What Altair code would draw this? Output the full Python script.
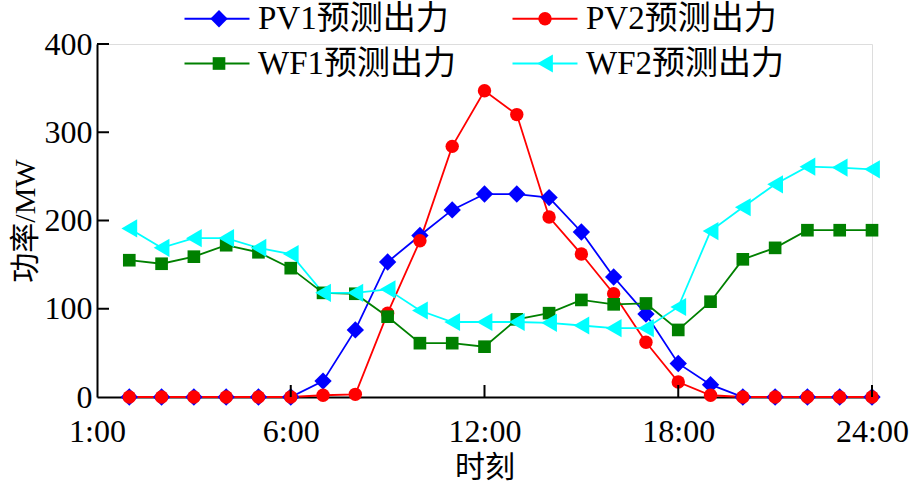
import altair as alt
import pandas as pd

hours = list(range(1, 25))
series = ["PV1预测出力", "PV2预测出力", "WF1预测出力", "WF2预测出力"]
pv1 = [0, 0, 0, 0, 0, 0, 18, 76, 153, 183, 212, 230, 230, 226, 187, 136, 94, 38, 14, 0, 0, 0, 0, 0]
pv2 = [0, 0, 0, 0, 0, 0, 2, 3, 95, 177, 284, 347, 320, 204, 162, 117, 62, 17, 2, 0, 0, 0, 0, 0]
wf1 = [155, 151, 159, 172, 164, 146, 118, 117, 91, 61, 61, 57, 88, 95, 110, 105, 106, 76, 108, 156, 169, 189, 189, 189]
wf2 = [191, 169, 180, 180, 169, 162, 118, 118, 122, 98, 85, 85, 85, 84, 81, 78, 78, 102, 188, 215, 241, 261, 260, 258]

x_tick_values = [0, 6, 12, 18, 24]
x_tick_labels = ["1:00", "6:00", "12:00", "18:00", "24:00"]
y_tick_values = [0, 100, 200, 300, 400]

colors = ["#0000FF", "#FF0000", "#008000", "#00FFFF"]
shapes = ["diamond", "circle", "square", "triangle-left"]
point_sizes = [300, 180, 160, 330]

line_series = [s + " " for s in series]  # separate legend domain for the line symbols

values = [pv1, pv2, wf1, wf2]
rows = []
for s, ls, vals in zip(series, line_series, values):
    for h, v in zip(hours, vals):
        rows.append({"hour": h, "power": v, "series": s, "line": ls})
df = pd.DataFrame(rows)

W, H = 775, 353
serif = "Liberation Serif, Noto Sans CJK SC"

label_expr = ""
for v, l in zip(x_tick_values[:-1], x_tick_labels[:-1]):
    label_expr += f"datum.value === {v} ? '{l}' : "
label_expr += f"'{x_tick_labels[-1]}'"

x_axis = alt.Axis(
    values=x_tick_values, labelExpr=label_expr, title="时刻", ticks=False, tickSize=0,
    grid=False, domainColor="black", domainWidth=2, labelFont=serif, labelFontSize=32,
    labelColor="black", labelPadding=19, labelFlush=False, labelOverlap=False,
    titleFont=serif, titleFontSize=30, titleFontWeight="normal", titleColor="black",
    titlePadding=5,
)
y_axis = alt.Axis(
    values=y_tick_values, title="功率/MW", ticks=False, tickSize=0, grid=False,
    domainColor="black", domainWidth=2, labelFont=serif, labelFontSize=32,
    labelColor="black", labelPadding=5, labelFlush=False, labelOverlap=False,
    titleFont=serif, titleFontSize=30, titleFontWeight="normal", titleColor="black",
    titlePadding=4,
)
x_scale = alt.Scale(domain=[0, 24], nice=False, zero=False)
y_scale = alt.Scale(domain=[0, 400], nice=False)

LX, LY = 86, -42
line_sym = 900      # sqrt = 30 px
mark_sym = 220
label_off = 42

line_legend = alt.Legend(
    title=None, orient="none", legendX=LX, legendY=LY, direction="horizontal", columns=2,
    columnPadding=52, rowPadding=11, symbolSize=line_sym, symbolType="M-1,0H3.333",
    symbolStrokeWidth=2, labelOffset=label_off, labelFont=serif, labelFontSize=33,
    labelColor="black", padding=0, labelLimit=400, zindex=1, labelExpr="trim(datum.label)",
)
mark_legend = alt.Legend(
    title=None, orient="none", legendX=LX + 19.5, legendY=LY, direction="horizontal",
    columns=2, columnPadding=37, rowPadding=11, symbolSize=mark_sym, symbolStrokeWidth=0,
    labelOffset=label_off + 30 - 14, labelFont=serif, labelFontSize=33, labelOpacity=0,
    padding=0, labelLimit=400, zindex=2, symbolOpacity=1,
)

lines = alt.Chart(df).mark_line(strokeWidth=1.8).encode(
    x=alt.X("hour:Q", scale=x_scale, axis=x_axis),
    y=alt.Y("power:Q", scale=y_scale, axis=y_axis),
    stroke=alt.Stroke("line:N", scale=alt.Scale(domain=line_series, range=colors), legend=line_legend),
    detail="series:N",
)
points = alt.Chart(df).mark_point(filled=True, opacity=1).encode(
    x=alt.X("hour:Q"),
    y=alt.Y("power:Q"),
    color=alt.Color("series:N", scale=alt.Scale(domain=series, range=colors), legend=mark_legend),
    shape=alt.Shape("series:N", scale=alt.Scale(domain=series, range=shapes), legend=mark_legend),
    size=alt.Size("series:N", scale=alt.Scale(type="ordinal", domain=series, range=point_sizes), legend=None),
)

yt = alt.Chart(pd.DataFrame({"power": y_tick_values[1:]})).mark_rule(color="black", strokeWidth=2).encode(
    y=alt.Y("power:Q"), x=alt.value(0), x2=alt.value(12)
)
xt = alt.Chart(pd.DataFrame({"hour": x_tick_values[1:]})).mark_rule(color="black", strokeWidth=2).encode(
    x=alt.X("hour:Q"), y=alt.value(H), y2=alt.value(H - 12)
)

chart = alt.layer(lines, points, yt, xt).properties(
    width=W, height=H,
    padding={"left": 97, "top": 44, "right": 40, "bottom": 89},
    autosize="none",
).configure_view(strokeWidth=0).configure(background="white")

chart.save("out.html", embed_options={"renderer": "svg", "actions": False})
